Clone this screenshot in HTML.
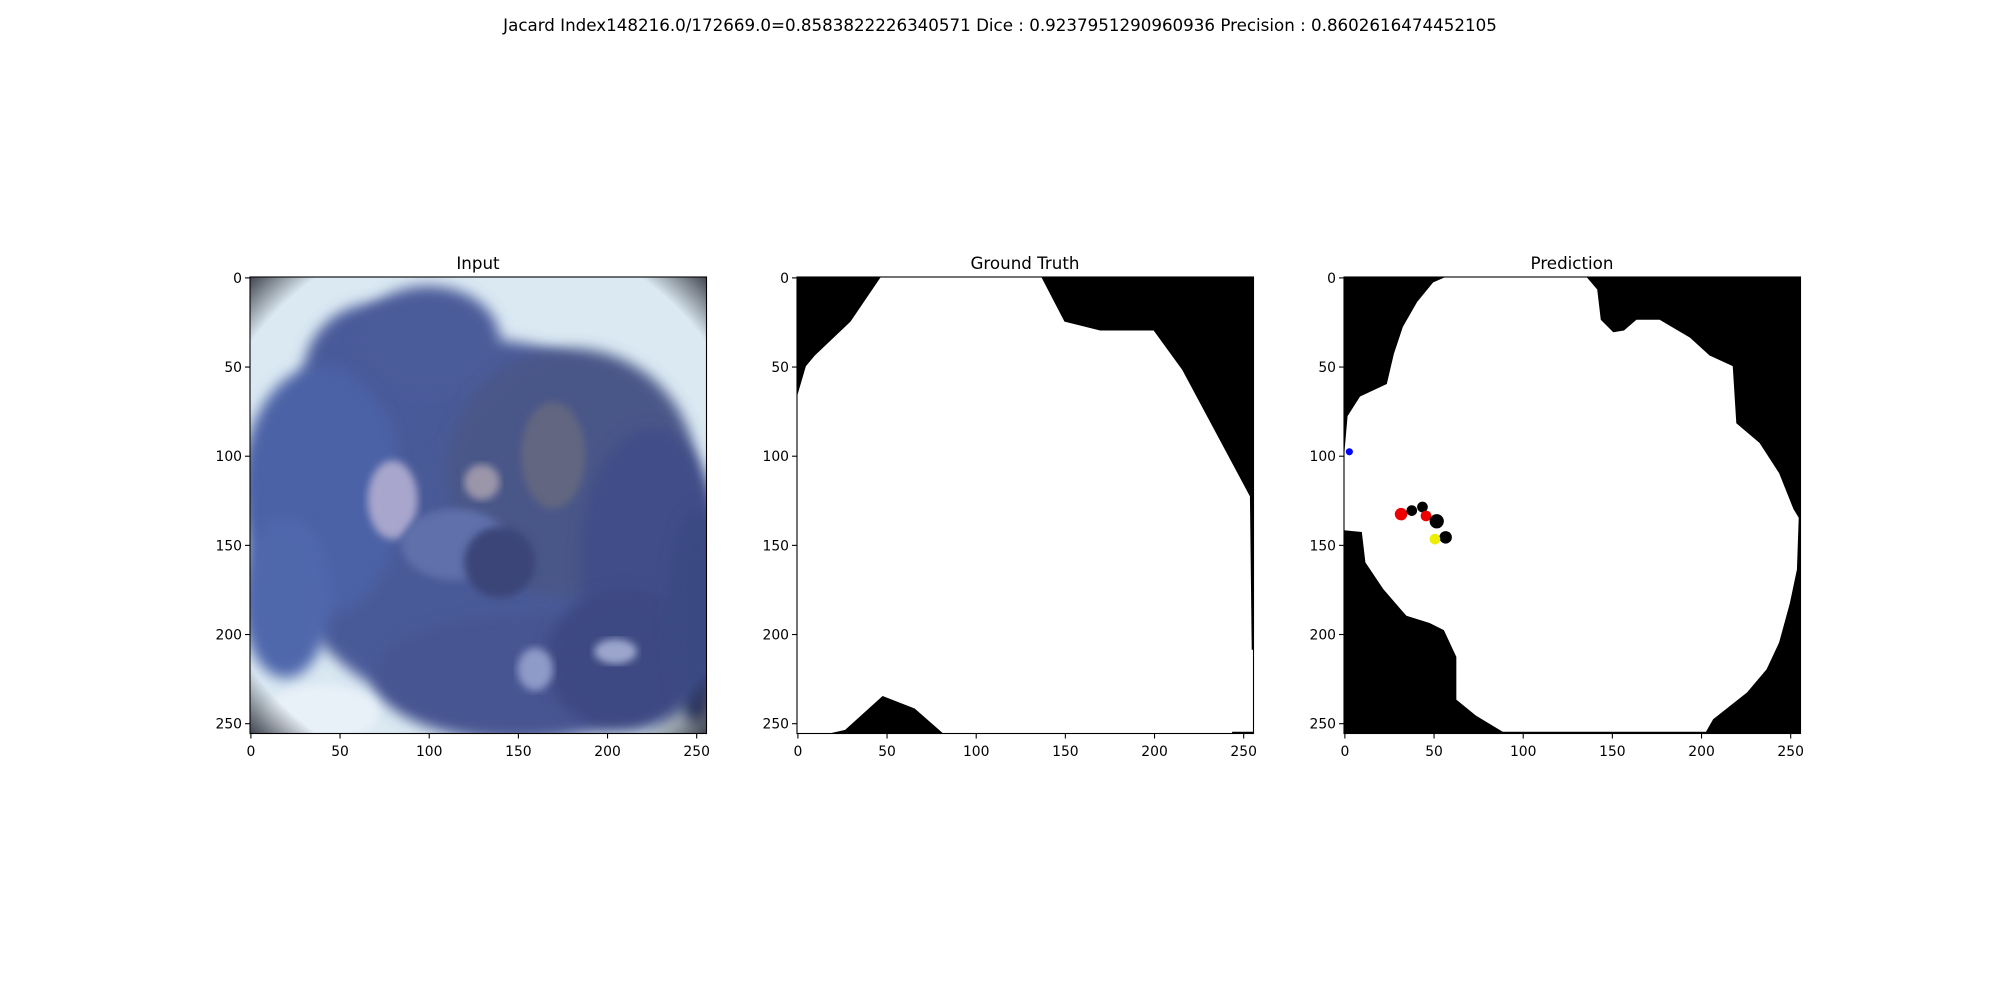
<!DOCTYPE html>
<html><head><meta charset="utf-8"><style>
html,body{margin:0;padding:0;background:#fff;}
svg{display:block;font-family:"DejaVu Sans","Liberation Sans",sans-serif;}
</style></head><body>
<svg id="fig" width="2000" height="1000" viewBox="0 0 2000 1000">
<defs>
<filter id="blur6" x="-30%" y="-30%" width="160%" height="160%"><feGaussianBlur stdDeviation="7"/></filter>
<filter id="blur3"><feGaussianBlur stdDeviation="4"/></filter>
<radialGradient id="vig" cx="0.5" cy="0.5" r="0.72">
<stop offset="0.85" stop-color="#000" stop-opacity="0"/><stop offset="1" stop-color="#101020" stop-opacity="0.85"/></radialGradient>
<clipPath id="c1"><rect x="250" y="277" width="457" height="456"/></clipPath>
<clipPath id="c2"><rect x="797" y="277" width="457" height="456"/></clipPath>
<clipPath id="c3"><rect x="1344" y="277" width="457" height="456"/></clipPath>
</defs>
<text x="1000" y="31" text-anchor="middle" font-size="16.7">Jacard Index148216.0/172669.0=0.8583822226340571 Dice : 0.9237951290960936 Precision : 0.8602616474452105</text>
<g id="panels"></g>
</svg>
<script>
const panelTitles = ["Input","Ground Truth","Prediction"];
const panelLeft = [250,797,1344];
const tickValues = [0,50,100,150,200,250];
// ground-truth black regions (image coords x,y)
const gtTopLeft = [[0,0],[47,0],[30,25],[10,44],[5,50],[0,67]];
const gtTopRight = [[137,0],[150,25],[170,30],[200,30],[216,52],[254,123],[255,209],[256,209],[256,0]];
const gtBottom = [[18,256],[27,254],[48,235],[66,242],[82,256]];
const gtBottomRight = [[244,255],[256,255],[256,256],[244,256]];
// prediction white region
const predBlob = [[57,0],[136,0],[142,7],[144,24],[151,31],[157,30],[164,24],[177,24],[194,34],[205,44],[218,50],[220,82],[233,93],[244,110],[252,130],[255,135],[254,164],[250,183],[244,205],[237,220],[226,233],[207,248],[203,255],[89,255],[74,246],[63,237],[63,213],[56,198],[48,194],[35,190],[22,175],[12,160],[10,143],[0,142],[0,101],[2,78],[9,67],[24,60],[28,43],[33,28],[41,14],[50,3]];
const predHoles = [[32,133,3.5,"#e00"],[38,131,3,"#000"],[44,129,3,"#000"],[46,134,3,"#e00"],[52,137,4,"#000"],[57,146,3.5,"#000"],[51,147,3,"#ee0"],[3,98,2,"#00f"]];

const NS="http://www.w3.org/2000/svg";
const top0=277, size=456.5, W=256;
const g=document.getElementById('panels');
function mk(t,a,p){const e=document.createElementNS(NS,t);for(const k in a)e.setAttribute(k,a[k]);(p||g).appendChild(e);return e;}
function sx(i,v){return panelLeft[i]+(v+0.5)*size/W;}
function sy(v){return top0+(v+0.5)*size/W;}
function px(i,v){return panelLeft[i]+v*size/W;}
function py(v){return top0+v*size/W;}
function poly(i,pts,fill,p){return mk('polygon',{points:pts.map(q=>px(i,q[0])+','+py(q[1])).join(' '),fill:fill},p);}

// panel 0: input image
let p0=mk('g',{'clip-path':'url(#c1)'});


mk('rect',{x:250,y:277,width:457,height:456,fill:'#dbe9f3'},p0);
const blobs=[[130,140,115,105,'#4a5a98'],[70,55,40,40,'#485a9a'],[100,35,40,30,'#4b5c9a'],[40,120,45,70,'#4c62a6'],[180,110,70,70,'#4a5788'],[225,160,40,75,'#3f4e88'],[150,225,80,35,'#465592'],[210,215,45,40,'#3c4a82'],[20,180,25,45,'#5068ac'],[250,190,15,60,'#3a4982']];
blobs.forEach(b=>mk('ellipse',{cx:px(0,b[0]),cy:py(b[1]),rx:b[2]*size/W,ry:b[3]*size/W,fill:b[4],filter:'url(#blur6)'},p0));
const lights=[[80,125,14,22,'#a8a6cc'],[130,115,10,10,'#9c96aa'],[160,220,10,12,'#8e9ac8'],[40,245,32,16,'#e8f0f8'],[205,210,12,7,'#9ca6cc'],[115,150,30,20,'#5f70aa'],[170,100,18,30,'#626680'],[140,160,20,20,'#3a4578']];
lights.forEach(b=>mk('ellipse',{cx:px(0,b[0]),cy:py(b[1]),rx:b[2]*size/W,ry:b[3]*size/W,fill:b[4],filter:'url(#blur3)'},p0));
mk('rect',{x:250,y:277,width:457,height:456,fill:'url(#vig)'},p0);

// panel 1: ground truth
let p1=mk('g',{'clip-path':'url(#c2)'});


mk('rect',{x:797,y:277,width:457,height:456,fill:'#fff'},p1);
[gtTopLeft,gtTopRight,gtBottom,gtBottomRight].forEach(r=>poly(1,r,'#000',p1));

// panel 2: prediction
let p2=mk('g',{'clip-path':'url(#c3)'});


mk('rect',{x:1344,y:277,width:457,height:456,fill:'#000'},p2);
poly(2,predBlob,'#fff',p2);
predHoles.forEach(h=>mk('ellipse',{cx:px(2,h[0]),cy:py(h[1]),rx:h[2]*size/W,ry:h[2]*size/W,fill:h[3]},p2));

// axes
panelTitles.forEach((t,i)=>{
  const L=panelLeft[i];
  const ttl=mk('text',{x:L+228,y:269,'text-anchor':'middle','font-size':16.7});
  ttl.textContent=t;
  
  
  const fr=mk('rect',{x:L,y:top0,width:456.5,height:456.5,fill:'none',stroke:'#000','stroke-width':1.1});
  
  
  tickValues.forEach(v=>{
    const x=sx(i,v), y=sy(v);
    mk('line',{x1:x,y1:top0+456.5,x2:x,y2:top0+461.5,stroke:'#000','stroke-width':1.1});
    const tx=mk('text',{x:x,y:top0+479,'text-anchor':'middle','font-size':13.9});
    tx.textContent=v;
    
    
    mk('line',{x1:L,y1:y,x2:L-5,y2:y,stroke:'#000','stroke-width':1.1});
    const ty=mk('text',{x:L-8,y:y+5,'text-anchor':'end','font-size':13.9});
    ty.textContent=v;
    
    
  });
});
</script>
</body></html>
